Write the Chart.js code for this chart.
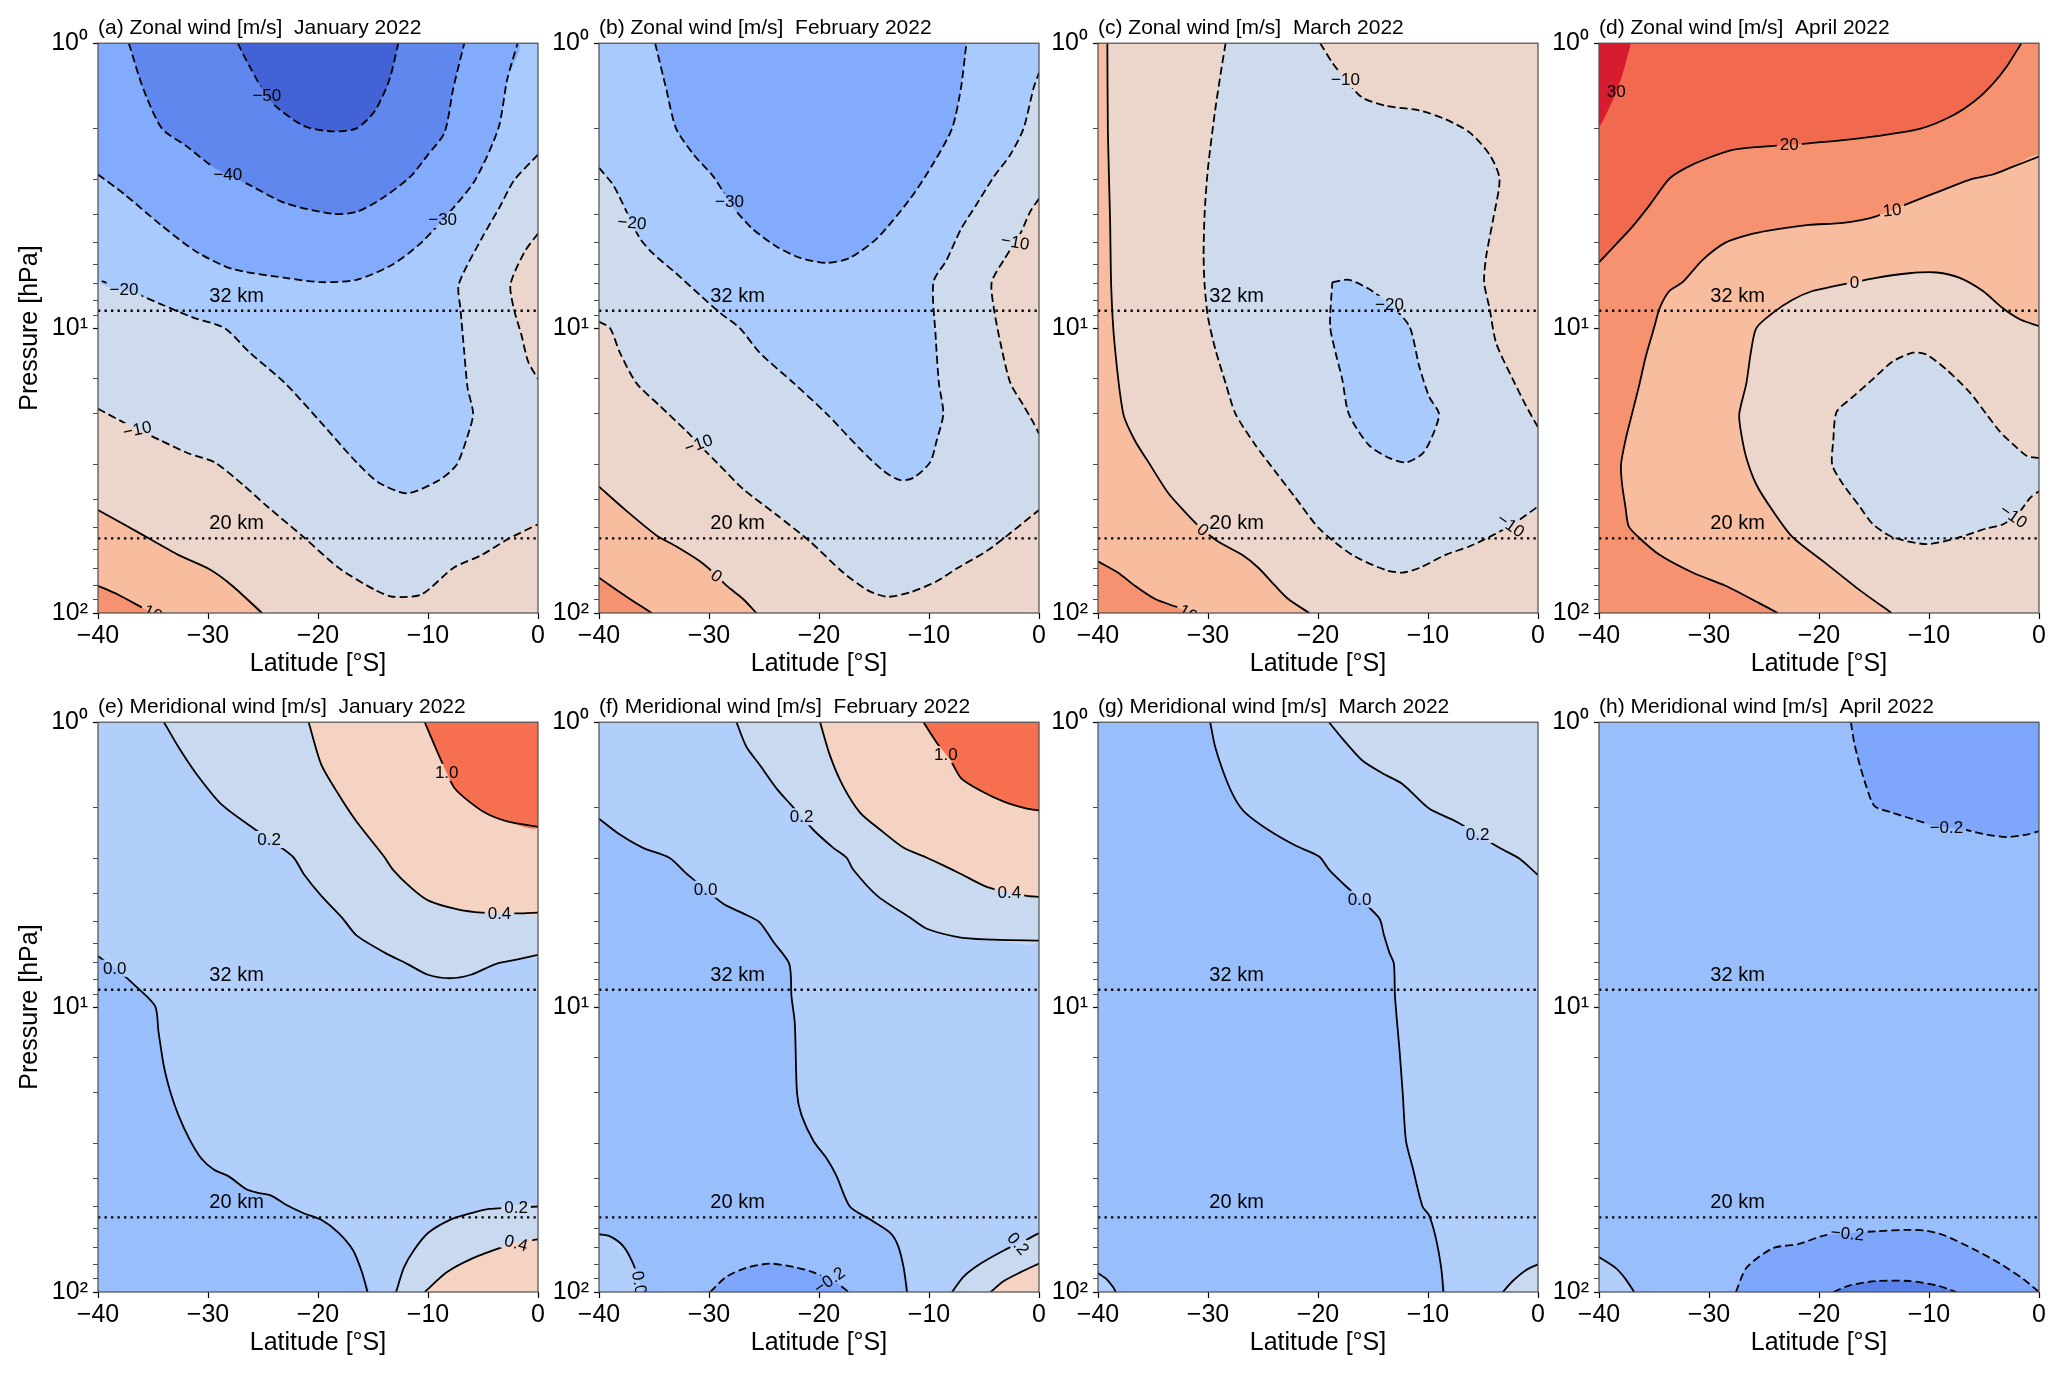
<!DOCTYPE html>
<html>
<head>
<meta charset="utf-8">
<script src="https://cdn.jsdelivr.net/npm/chart.js@4.4.1/dist/chart.umd.min.js"></script>
<style>
  html, body { margin: 0; padding: 0; background: #fff; }
  #page { position: relative; width: 2067px; height: 1377px; overflow: hidden; background: #fff; }
  #page canvas { position: absolute; }
</style>
</head>
<body>
<div id="page"></div>
<script>
// ---- axes
const LAT_TICKS = [-40, -30, -20, -10, 0];
const P_DECADES = [1, 10, 100];
const P_EXPONENT = ['\u2070', '\u00b9', '\u00b2'];
const KM_P = [8.69, 54.7];
const KM_TEXT = ['32 km', '20 km'];
const KM_LAT = -27.4;

const TITLES = [
  '(a) Zonal wind [m/s]  January 2022',
  '(b) Zonal wind [m/s]  February 2022',
  '(c) Zonal wind [m/s]  March 2022',
  '(d) Zonal wind [m/s]  April 2022',
  '(e) Meridional wind [m/s]  January 2022',
  '(f) Meridional wind [m/s]  February 2022',
  '(g) Meridional wind [m/s]  March 2022',
  '(h) Meridional wind [m/s]  April 2022'
];

// ---- contour lines, [latitude, pressure hPa]
// (a) zonal, January
const A_M50 = [[-27.3,1],[-26.2,1.21],[-24.3,1.60],[-21.3,1.95],[-18.7,2.04],[-16.5,1.99],[-14.8,1.72],[-13.5,1.34],[-12.7,1]];
const A_M40 = [[-37.2,1],[-35.9,1.44],[-34.2,1.99],[-32.0,2.29],[-29.4,2.74],[-26.2,3.15],[-23.0,3.64],[-18.7,3.97],[-16.5,3.91],[-14.2,3.51],[-11.6,2.94],[-10.0,2.46],[-8.5,2.06],[-7.7,1.44],[-6.7,1]];
const A_M30 = [[-40,2.89],[-37.6,3.39],[-34.3,4.34],[-31.1,5.38],[-27.8,6.20],[-23.0,6.66],[-19.7,6.90],[-16.5,6.77],[-13.2,5.98],[-10.6,5.01],[-8.0,3.90],[-5.75,3.04],[-3.6,1.99],[-2.8,1.34],[-1.85,1]];
const A_M20 = [[0,2.46],[-2.2,3.04],[-3.5,3.77],[-5.1,4.83],[-7.2,7.02],[-7.05,8.54],[-6.7,12.2],[-6.4,16.2],[-5.9,20.0],[-6.4,23.9],[-7.4,30.2],[-9.0,34.2],[-11.9,38.0],[-14.5,34.8],[-16.5,29.6],[-19.7,21.5],[-23.0,15.6],[-26.2,12.2],[-28.5,10.0],[-31.4,9.17],[-34.3,8.24],[-36.6,7.54],[-40,6.77]];
const A_M10R = [[0,4.66],[-1.2,5.38],[-2.5,7.02],[-2.2,8.54],[-1.5,10.6],[-0.9,13.1],[0,15.1]];
const A_M10 = [[-40,19.2],[-37.2,21.9],[-34.3,24.8],[-31.7,27.6],[-29.4,29.6],[-26.85,35.4],[-24.6,42.3],[-21.3,54.2],[-18.1,69.5],[-14.8,83.1],[-13.2,87.7],[-10.6,86.1],[-7.7,69.5],[-5.1,62.5],[-2.8,55.2],[0,48.8]];
const A_0 = [[-40,43.5],[-35.9,53.3],[-32.7,62.5],[-29.9,70.1],[-27.8,80.2],[-25.1,100]];
const A_10 = [[-40,80.2],[-38.2,86.1],[-35.6,97.5],[-35.0,100]];

// (b) zonal, February
const B_M30 = [[-34.9,1],[-33.9,1.44],[-33.0,1.99],[-31.4,2.46],[-29.6,2.94],[-27.8,3.77],[-26.0,4.50],[-23.8,5.19],[-21.7,5.67],[-19.3,5.90],[-17.2,5.67],[-14.7,4.83],[-11.7,3.51],[-9.6,2.64],[-7.9,1.99],[-7.1,1.44],[-6.6,1]];
const B_M20 = [[-40,2.74],[-38.7,3.15],[-37.5,3.90],[-36.3,4.83],[-35.1,5.47],[-33.0,6.42],[-30.8,7.67],[-29.0,8.84],[-27.2,10.0],[-25.4,12.2],[-22.3,15.6],[-19.3,20.0],[-16.25,26.6],[-14.1,31.8],[-12.6,34.2],[-11.4,33.5],[-9.9,29.6],[-9.3,24.8],[-8.7,20.0],[-9.1,15.6],[-9.4,10.6],[-9.6,6.90],[-8.4,5.77],[-7.1,4.50],[-5.6,3.64],[-4.1,2.94],[-2.6,2.46],[-1.4,1.99],[-0.5,1.44],[0,1.27]];
const B_M10R = [[0,3.51],[-0.8,3.90],[-1.7,4.66],[-3.2,5.77],[-4.3,6.90],[-4.1,8.54],[-3.5,11.3],[-2.6,15.6],[-1.4,18.7],[-0.5,21.5],[0,23.5]];
const B_M10 = [[-40,9.5],[-39.0,10.0],[-38.1,12.2],[-36.6,15.6],[-34.5,18.7],[-32.0,23.1],[-30.5,26.6],[-29.3,29.6],[-26.9,36.7],[-23.8,45.4],[-20.8,56.2],[-17.8,72.1],[-15.6,83.1],[-13.8,87.7],[-11.7,84.6],[-9.3,77.4],[-7.4,69.5],[-4.7,60.4],[-2.6,52.4],[0,43.5]];
const B_0 = [[-40,36.0],[-37.5,43.8],[-34.8,53.3],[-33.0,58.3],[-30.8,65.9],[-29.6,72.1],[-28.4,80.2],[-26.9,89.3],[-25.7,100]];
const B_10 = [[-40,75.2],[-38.1,84.6],[-36.6,92.5],[-35.2,100]];

// (c) zonal, March
const C_M10L = [[-28.4,1],[-28.75,1.21],[-29.35,1.72],[-30.0,2.74],[-30.3,3.90],[-30.4,5.57],[-30.3,7.14],[-30.0,9.17],[-29.35,11.8],[-28.4,15.6],[-27.5,20.0],[-25.7,25.7],[-23.9,31.8],[-22.05,39.4],[-19.9,50.5],[-16.9,62.5],[-13.8,70.8],[-12.3,72.1],[-10.8,69.5],[-8.4,62.5],[-6.2,58.3],[-4.1,53.3],[-2.3,48.8],[0,42.3]];
const C_M10R = [[-19.8,1],[-18.7,1.17],[-17.5,1.34],[-16.0,1.55],[-13.8,1.66],[-10.8,1.72],[-8.4,1.85],[-6.2,2.06],[-4.4,2.46],[-3.5,2.99],[-4.1,4.19],[-4.7,5.57],[-4.9,6.90],[-4.4,8.54],[-3.8,11.3],[-2.3,15.1],[-1.1,18.7],[0,22.3]];
const C_M20 = [[-18.7,6.90],[-17.2,6.77],[-15.4,7.28],[-13.5,8.24],[-11.7,9.84],[-10.8,13.6],[-9.9,17.4],[-9.0,20.0],[-9.6,23.9],[-10.5,27.6],[-12.0,29.6],[-13.5,28.6],[-15.4,25.7],[-17.2,20.0],[-17.8,15.1],[-18.4,12.2],[-18.9,9.84],[-18.7,6.90]];
const C_0 = [[-39.15,1],[-39.1,2.06],[-38.9,4.19],[-38.8,7.14],[-38.5,11.3],[-37.7,20.0],[-36.65,24.8],[-35.4,29.6],[-33.6,38.0],[-31.8,45.4],[-30.6,50.5],[-29.05,56.2],[-26.9,62.5],[-25.4,69.5],[-23.9,80.2],[-22.7,89.3],[-20.8,100]];
const C_10 = [[-40,65.9],[-38.2,72.1],[-36.65,80.2],[-34.8,89.3],[-32.7,95.8],[-31.8,100]];

// (d) zonal, April
const D_30 = [[-37.1,1],[-37.9,1.30],[-38.8,1.60],[-40,1.95]];
const D_20 = [[-40,5.88],[-38.5,5.10],[-37.0,4.42],[-35.4,3.70],[-33.6,2.99],[-32.1,2.74],[-30.3,2.55],[-27.85,2.37],[-25.4,2.31],[-23.9,2.29],[-21.2,2.25],[-17.8,2.19],[-14.8,2.12],[-10.85,2.00],[-7.8,1.79],[-5.7,1.58],[-4.2,1.39],[-2.95,1.21],[-1.6,1]];
const D_10 = [[-23.75,100],[-25.4,92.5],[-28.5,80.2],[-31.5,72.1],[-34.5,62.5],[-36.4,54.2],[-37.3,49.6],[-37.6,42.3],[-37.9,35.4],[-38.0,30.2],[-37.6,24.8],[-37.0,20.0],[-36.4,16.2],[-35.75,12.6],[-35.0,10.0],[-34.5,8.54],[-33.6,7.41],[-32.4,6.90],[-30.6,5.77],[-28.5,5.01],[-26.0,4.66],[-23.9,4.50],[-20.9,4.34],[-17.8,4.27],[-14.8,4.05],[-11.8,3.64],[-8.7,3.27],[-6.0,2.99],[-4.2,2.89],[-2.65,2.74],[0,2.50]];
const D_0 = [[-13.4,100],[-16.3,83.1],[-19.35,67.1],[-22.4,54.2],[-24.2,43.8],[-25.7,35.4],[-26.6,28.6],[-27.1,23.1],[-27.25,20.0],[-26.6,15.6],[-26.2,12.2],[-25.7,10.0],[-24.2,8.84],[-22.4,7.95],[-20.6,7.41],[-18.7,7.14],[-14.8,6.66],[-11.8,6.42],[-9.3,6.38],[-7.2,6.66],[-5.1,7.41],[-3.25,8.54],[-1.7,9.33],[0,9.84]];
const D_M10 = [[0,28.6],[-1.1,28.1],[-2.3,25.7],[-3.55,23.1],[-4.8,20.0],[-6.3,16.8],[-8.4,14.0],[-10.2,12.4],[-11.45,12.2],[-13.3,13.1],[-15.1,15.1],[-16.9,17.4],[-18.4,19.7],[-18.7,24.8],[-18.8,30.2],[-17.8,35.4],[-16.3,42.3],[-15.1,48.8],[-13.3,54.2],[-10.2,57.3],[-7.2,54.2],[-4.8,50.5],[-3.25,48.8],[-1.7,43.8],[-0.8,39.4],[0,37.4]];

// (e) meridional, January
const E_0 = [[-40,6.63],[-38.2,7.43],[-36.4,8.56],[-34.8,9.93],[-34.5,12.2],[-34.0,16.2],[-33.4,20.0],[-32.7,23.9],[-31.7,29.0],[-30.6,34.0],[-29.45,37.2],[-28.15,39.2],[-26.5,43.6],[-25.55,44.8],[-24.25,45.9],[-22.95,49.3],[-21.3,52.9],[-19.7,55.8],[-18.1,62.1],[-16.8,71.5],[-16.0,85.3],[-15.5,100]];
const E_02 = [[-34.0,1],[-32.7,1.22],[-31.1,1.51],[-28.8,1.94],[-26.2,2.31],[-22.3,2.96],[-21.3,3.41],[-19.7,4.07],[-17.8,4.86],[-16.5,5.60],[-13.9,6.45],[-11.9,7.05],[-10.0,7.70],[-8.0,7.92],[-6.1,7.70],[-3.8,7.05],[-1.85,6.80],[0,6.56]];
const E_04 = [[-20.85,1],[-19.7,1.41],[-18.1,1.80],[-16.5,2.23],[-14.0,2.96],[-13.2,3.29],[-11.6,3.79],[-10.0,4.22],[-7.4,4.53],[-5.1,4.66],[-1.85,4.69],[0,4.66]];
const E_10 = [[-10.3,1],[-9.0,1.31],[-7.7,1.68],[-6.7,1.84],[-4.8,2.08],[-2.8,2.23],[0,2.33]];
const E_02B = [[-12.9,100],[-12.2,82.3],[-11.3,71.5],[-10.0,62.1],[-8.0,55.8],[-6.1,52.9],[-4.45,51.1],[0,50.1]];
const E_04B = [[-10.3,100],[-8.3,85.3],[-6.1,76.7],[-3.5,70.2],[-1.85,67.0],[0,65.4]];

// (f) meridional, February
const F_0 = [[-40,2.18],[-38.1,2.48],[-36.0,2.76],[-33.6,2.99],[-32.0,3.41],[-28.7,4.34],[-26.9,4.69],[-25.4,5.04],[-24.15,5.90],[-22.7,7.05],[-22.5,9.19],[-22.2,11.4],[-22.0,20.0],[-21.6,23.9],[-20.5,29.5],[-19.3,34.0],[-18.4,39.2],[-17.2,50.1],[-15.3,55.8],[-13.5,62.1],[-12.8,69.0],[-12.3,82.3],[-12.0,100]];
const F_0B = [[-40,62.7],[-39.0,63.8],[-37.8,69.0],[-36.9,79.5],[-36.3,93.2],[-36.1,100]];
const F_M02 = [[-29.9,100],[-28.4,88.3],[-26.6,82.3],[-24.45,79.5],[-22.3,81.7],[-20.5,85.3],[-18.1,94.8],[-17.3,100]];
const F_02 = [[-27.5,1],[-26.6,1.22],[-25.4,1.41],[-23.85,1.71],[-22.6,1.94],[-20.5,2.39],[-18.7,2.76],[-17.5,2.99],[-16.9,3.29],[-14.7,4.07],[-11.7,4.86],[-10.2,5.31],[-7.1,5.70],[-4.1,5.80],[0,5.84]];
const F_04 = [[-19.9,1],[-19.0,1.31],[-17.8,1.68],[-16.25,2.08],[-14.4,2.39],[-12.3,2.76],[-10.2,2.99],[-8.7,3.18],[-7.1,3.41],[-4.7,3.79],[-1.1,4.07],[0,4.10]];
const F_10 = [[-10.5,1],[-9.3,1.18],[-8.05,1.36],[-7.1,1.57],[-5.3,1.74],[-3.2,1.90],[-1.1,2.01],[0,2.04]];
const F_02B = [[-7.9,100],[-6.85,88.3],[-5.3,79.5],[-3.2,71.5],[-1.1,65.4],[0,62.1]];
const F_04B = [[-4.4,100],[-3.2,91.5],[-1.7,85.3],[0,79.5]];

// (g) meridional, March
const G_0 = [[-29.8,1],[-29.35,1.22],[-28.4,1.57],[-27.5,1.87],[-26.6,2.08],[-24.5,2.39],[-22.05,2.71],[-19.9,2.96],[-19.0,3.29],[-17.8,3.66],[-14.45,4.86],[-14.0,5.60],[-13.5,6.45],[-13.1,7.05],[-13.0,9.19],[-12.6,14.0],[-12.3,20.0],[-12.0,29.5],[-11.4,36.5],[-10.5,50.1],[-9.9,53.8],[-9.3,64.3],[-8.8,82.3],[-8.6,100]];
const G_0B = [[-40,85.9],[-39.25,89.9],[-38.6,96.5],[-38.4,100]];
const G_02 = [[-19.0,1],[-17.8,1.14],[-16.0,1.36],[-14.15,1.51],[-12.3,1.65],[-9.9,2.01],[-7.45,2.23],[-3.5,2.76],[-1.7,3.01],[0,3.44]];
const G_02B = [[-3.2,100],[-2.3,91.5],[-1.1,83.8],[0,80.0]];

// (h) meridional, April
const H_M02T = [[-17.1,1],[-16.8,1.18],[-16.3,1.41],[-15.7,1.68],[-14.95,1.97],[-13.3,2.08],[-11.45,2.19],[-9.6,2.30],[-6.6,2.39],[-4.8,2.48],[-2.95,2.53],[-1.1,2.48],[0,2.41]];
const H_M02B = [[-27.55,100],[-26.6,82.3],[-24.2,70.2],[-21.8,67.8],[-19.35,63.1],[-14.8,61.2],[-11.8,60.5],[-10.2,61.0],[-8.7,63.1],[-5.7,71.5],[-3.55,79.5],[-1.45,89.9],[0,100]];
const H_M04B = [[-18.7,100],[-17.2,94.8],[-14.8,91.5],[-11.8,91.5],[-9.3,94.8],[-7.5,100]];
const H_0B = [[-40,75.4],[-38.5,82.3],[-37.6,89.9],[-36.8,100]];

// ---- band colours (coolwarm-like)
const Z_LT50 = '#4262d6', Z_50_40 = '#5f87ee', Z_40_30 = '#82abfb', Z_30_20 = '#a9cafd',
      Z_20_10 = '#cedbec', Z_10_0 = '#ecd5ca', Z_0_10 = '#f8bc9f', Z_10_20 = '#f6926f',
      Z_20_30 = '#f16a50', Z_GT30 = '#d81c2f';
const M_LT04 = '#5a81e9', M_04_02 = '#7ea7fb', M_02_0 = '#98befc', M_0_02 = '#b2cffb',
      M_02_04 = '#c9d9ef', M_04_10 = '#f5d3c3', M_GT10 = '#f6704f';

// domain corners used to close regions along the frame
const TL = [-40, 1], TR = [0, 1], BR = [0, 100], BL = [-40, 100];
const close = (line, ...corners) => line.concat(corners);

// fills are painted in order, each over the previous
const PANELS = [
  { base: Z_20_10,
    fills: [[close(A_M20, TL, TR), Z_30_20], [close(A_M30, TL), Z_40_30], [A_M40, Z_50_40], [A_M50, Z_LT50],
            [close(A_M10, BR, BL), Z_10_0], [A_M10R, Z_10_0], [close(A_0, BL), Z_0_10], [close(A_10, BL), Z_10_20]],
    lines: [[A_M50, 1], [A_M40, 1], [A_M30, 1], [A_M20, 1], [A_M10, 1], [A_M10R, 1], [A_0, 0], [A_10, 0]],
    labels: [[A_M50, -24.9, 1.54, '\u221250', 0], [A_M40, -28.2, 2.89, '\u221240', 0], [A_M30, -8.7, 4.15, '\u221230', 0],
             [A_M20, -37.7, 7.41, '\u221220', 0], [A_M10, -36.3, 22.1, '\u221210', -12], [A_10, -34.8, 99, '10', 25]] },
  { base: Z_20_10,
    fills: [[close(B_M20, TR, TL), Z_30_20], [B_M30, Z_40_30], [close(B_M10, BR, BL), Z_10_0], [B_M10R, Z_10_0],
            [close(B_0, BL), Z_0_10], [close(B_10, BL), Z_10_20]],
    lines: [[B_M30, 1], [B_M20, 1], [B_M10, 1], [B_M10R, 1], [B_0, 0], [B_10, 0]],
    labels: [[B_M30, -28.0, 3.57, '\u221230', 0], [B_M20, -37.05, 4.27, '\u221220', 5], [B_M10, -31.3, 26.2, '\u221210', -20],
             [B_M10R, -2.4, 4.92, '\u221210', 10], [B_0, -29.6, 76, '0', 35]] },
  { base: Z_10_0,
    fills: [[C_M10L.concat(C_M10R.slice().reverse()), Z_20_10], [C_M20, Z_30_20], [close(C_0, BL, TL), Z_0_10], [close(C_10, BL), Z_10_20]],
    lines: [[C_M10L, 1], [C_M10R, 1], [C_M20, 1], [C_0, 0], [C_10, 0]],
    labels: [[C_M10R, -17.5, 1.34, '\u221210', 0], [C_M20, -13.5, 8.24, '\u221220', 0], [C_M10L, -2.3, 50.5, '\u221210', 35],
             [C_0, -30.7, 52.4, '0', 40], [C_10, -31.2, 98, '10', 30]] },
  { base: Z_20_30,
    fills: [[close(D_30, TL), Z_GT30], [close(D_20, TR, BR, BL), Z_10_20], [close(D_10, BR), Z_0_10], [close(D_0, BR), Z_10_0], [D_M10, Z_20_10]],
    lines: [[D_20, 0], [D_10, 0], [D_0, 0], [D_M10, 1]],
    labels: [[D_30, -38.5, 1.47, '30', 0], [D_20, -22.7, 2.27, '20', 0], [D_10, -13.4, 3.81, '10', -5],
             [D_0, -16.8, 6.82, '0', 0], [D_M10, -2.2, 46.2, '\u221210', 35]] },
  { base: M_0_02,
    fills: [[close(E_0, BL), M_02_0], [close(E_02, TR), M_02_04], [close(E_04, TR), M_04_10], [close(E_10, TR), M_GT10],
            [close(E_02B, BR), M_02_04], [close(E_04B, BR), M_04_10]],
    lines: [[E_0, 0], [E_02, 0], [E_04, 0], [E_10, 0], [E_02B, 0], [E_04B, 0]],
    labels: [[E_0, -38.2, 7.05, '0.0', 0], [E_02, -24.5, 2.60, '0.2', 0], [E_04, -3.5, 4.66, '0.4', 0],
             [E_10, -8.5, 1.51, '1.0', 0], [E_02B, -2.0, 50.2, '0.2', 0], [E_04B, -2.0, 67, '0.4', 15]] },
  { base: M_0_02,
    fills: [[close(F_0, BL), M_02_0], [close(F_0B, BL), M_0_02], [F_M02, M_04_02], [close(F_02, TR), M_02_04],
            [close(F_04, TR), M_04_10], [close(F_10, TR), M_GT10], [close(F_02B, BR), M_02_04], [close(F_04B, BR), M_04_10]],
    lines: [[F_0, 0], [F_0B, 0], [F_M02, 1], [F_02, 0], [F_04, 0], [F_10, 0], [F_02B, 0], [F_04B, 0]],
    labels: [[F_0, -30.3, 3.86, '0.0', 0], [F_02, -22.0, 2.22, '0.2', 0], [F_04, -2.7, 3.96, '0.4', 0],
             [F_10, -8.7, 1.32, '1.0', 0], [F_02B, -2.0, 66.1, '0.2', 50], [F_M02, -19.0, 89.9, '\u22120.2', -35],
             [F_0B, -36.4, 93, '0.0', 80]] },
  { base: M_0_02,
    fills: [[close(G_0, BL, TL), M_02_0], [close(G_0B, BL), M_0_02], [close(G_02, TR), M_02_04], [close(G_02B, BR), M_02_04]],
    lines: [[G_0, 0], [G_0B, 0], [G_02, 0], [G_02B, 0]],
    labels: [[G_0, -16.3, 4.22, '0.0', 0], [G_02, -5.5, 2.48, '0.2', 0]] },
  { base: M_02_0,
    fills: [[close(H_M02T, TR), M_04_02], [H_M02B, M_04_02], [H_M04B, M_LT04], [close(H_0B, BL), M_0_02]],
    lines: [[H_M02T, 1], [H_M02B, 1], [H_M04B, 1], [H_0B, 0]],
    labels: [[H_M02T, -8.4, 2.31, '\u22120.2', 0], [H_M02B, -17.4, 63.1, '\u22120.2', 5]] }
];

// ---- layout
const FONT = "'Liberation Sans', Arial, Helvetica, sans-serif";
const CANVAS_LEFT = [0, 501, 1000, 1501];
const CANVAS_TOP = [0, 679];
const CW = 558, CH = 688;
const TENSION = 0.25;
const LABEL_PX = 17;
const AXIS_PX = 25;
const page = document.getElementById('page');

const toXY = arr => arr.map(([x, y]) => ({ x, y }));

function snapToLine(chart, line, lat, p) {
  const xs = chart.scales.x, ys = chart.scales.y;
  const px = xs.getPixelForValue(lat), py = ys.getPixelForValue(p);
  let best = null;
  for (let i = 0; i < line.length - 1; i++) {
    const ax = xs.getPixelForValue(line[i][0]), ay = ys.getPixelForValue(line[i][1]);
    const bx = xs.getPixelForValue(line[i + 1][0]), by = ys.getPixelForValue(line[i + 1][1]);
    const dx = bx - ax, dy = by - ay;
    let t = ((px - ax) * dx + (py - ay) * dy) / (dx * dx + dy * dy || 1);
    t = Math.max(0, Math.min(1, t));
    const qx = ax + t * dx, qy = ay + t * dy;
    const d = Math.hypot(px - qx, py - qy);
    if (!best || d < best.d) best = { d, x: qx, y: qy };
  }
  return best;
}

function labelBoxes(chart, spec) {
  const ctx = chart.ctx;
  ctx.save();
  ctx.font = LABEL_PX + 'px ' + FONT;
  const out = spec.labels.map(([line, lat, p, text, ang]) => {
    const pos = snapToLine(chart, line, lat, p);
    return { x: pos.x, y: pos.y, text, a: ang * Math.PI / 180, w: ctx.measureText(text).width + 6, h: LABEL_PX };
  });
  ctx.restore();
  return out;
}

function makePanel(i) {
  const spec = PANELS[i];
  const col = i % 4, row = Math.floor(i / 4);
  const canvas = document.createElement('canvas');
  canvas.width = CW; canvas.height = CH;
  canvas.style.left = CANVAS_LEFT[col] + 'px';
  canvas.style.top = CANVAS_TOP[row] + 'px';
  page.appendChild(canvas);

  const datasets = [];
  spec.fills.forEach(([poly, color], k) => datasets.push({
    data: toXY(poly), showLine: true, fill: 'shape', backgroundColor: color,
    borderColor: 'rgba(0,0,0,0)', borderWidth: 0, pointRadius: 0, tension: TENSION, order: 100 - k
  }));
  const firstLine = datasets.length;
  spec.lines.forEach(([line, dashed]) => datasets.push({
    data: toXY(line), showLine: true, fill: false, borderColor: '#000', borderWidth: 1.8,
    borderDash: dashed ? [8, 4] : [], pointRadius: 0, tension: TENSION, order: 10
  }));
  const lastLine = datasets.length;
  KM_P.forEach(p => datasets.push({
    data: [{ x: -40, y: p }, { x: 0, y: p }], showLine: true, fill: false, borderColor: '#000',
    borderWidth: 2.3, borderDash: [2.3, 4.2], borderCapStyle: 'butt', pointRadius: 0, order: 5
  }));

  let boxes = [];
  const panelPlugin = {
    id: 'panelDecor' + i,
    beforeDatasetsDraw(chart) {
      const { ctx, chartArea: a } = chart;
      boxes = labelBoxes(chart, spec);
      ctx.save();
      ctx.fillStyle = spec.base;
      ctx.fillRect(a.left, a.top, a.right - a.left, a.bottom - a.top);
      ctx.restore();
    },
    beforeDatasetDraw(chart, args) {
      if (args.index < firstLine || args.index >= lastLine) return;
      const ctx = chart.ctx;
      ctx.save();
      ctx.beginPath();
      ctx.rect(0, 0, chart.width, chart.height);
      boxes.forEach(b => {
        ctx.save();
        ctx.translate(b.x, b.y);
        ctx.rotate(b.a);
        ctx.rect(-b.w / 2, -b.h / 2, b.w, b.h);
        ctx.restore();
      });
      ctx.clip('evenodd');
    },
    afterDatasetDraw(chart, args) {
      if (args.index < firstLine || args.index >= lastLine) return;
      chart.ctx.restore();
    },
    afterDatasetsDraw(chart) {
      const { ctx, chartArea: a, scales } = chart;
      ctx.save();
      ctx.beginPath();
      ctx.rect(a.left, a.top, a.right - a.left, a.bottom - a.top);
      ctx.clip();
      ctx.fillStyle = '#000';
      ctx.font = LABEL_PX + 'px ' + FONT;
      ctx.textAlign = 'center';
      ctx.textBaseline = 'middle';
      boxes.forEach(b => {
        ctx.save();
        ctx.translate(b.x, b.y);
        ctx.rotate(b.a);
        ctx.fillText(b.text, 0, 1);
        ctx.restore();
      });
      ctx.font = '20px ' + FONT;
      ctx.textBaseline = 'alphabetic';
      KM_P.forEach((p, k) => {
        ctx.fillText(KM_TEXT[k], scales.x.getPixelForValue(KM_LAT), scales.y.getPixelForValue(p) - 9);
      });
      ctx.restore();
      ctx.save();
      ctx.strokeStyle = '#4d4d4d';
      ctx.lineWidth = 1.2;
      ctx.strokeRect(a.left, a.top, a.right - a.left, a.bottom - a.top);
      ctx.restore();
    }
  };

  new Chart(canvas, {
    type: 'scatter',
    data: { datasets },
    options: {
      responsive: false,
      animation: false,
      devicePixelRatio: 1,
      events: [],
      layout: { padding: { left: 0, right: 20, top: 0, bottom: 0 } },
      plugins: {
        legend: { display: false },
        tooltip: { enabled: false },
        title: {
          display: true, text: TITLES[i], align: 'start', fullSize: false, color: '#000',
          font: { family: FONT, size: 21, weight: 'normal' }, padding: { top: 16, bottom: 2 }
        }
      },
      scales: {
        x: {
          type: 'linear', min: -40, max: 0,
          afterFit: s => { s.height = 75; },
          afterBuildTicks: s => { s.ticks = LAT_TICKS.map(v => ({ value: v })); },
          ticks: {
            color: '#000', font: { family: FONT, size: AXIS_PX }, padding: 2, maxRotation: 0, autoSkip: false,
            callback: v => (v < 0 ? '\u2212' + Math.abs(v) : String(v))
          },
          grid: { drawOnChartArea: false, drawTicks: true, tickLength: 6, tickColor: '#000', tickWidth: 1.2 },
          border: { display: false },
          title: { display: true, text: 'Latitude [\u00b0S]', color: '#000', font: { family: FONT, size: AXIS_PX }, padding: { top: 0, bottom: 9 } }
        },
        y: {
          type: 'logarithmic', reverse: true, min: 1, max: 100,
          afterFit: s => { s.width = 98; },
          ticks: {
            color: '#000', font: { family: FONT, size: AXIS_PX }, padding: 5, autoSkip: false,
            callback: v => {
              const k = P_DECADES.findIndex(d => Math.abs(v - d) < d * 1e-6);
              return k >= 0 ? '10' + P_EXPONENT[k] : '';
            }
          },
          grid: {
            drawOnChartArea: false, drawTicks: true, tickLength: 5, tickColor: '#000',
            tickWidth: c => (c.tick && P_DECADES.some(d => Math.abs(c.tick.value - d) < d * 1e-6) ? 1.2 : 0.7)
          },
          border: { display: false },
          title: { display: col === 0, text: 'Pressure [hPa]', color: '#000', font: { family: FONT, size: AXIS_PX }, padding: { top: 15, bottom: 0 } }
        }
      }
    },
    plugins: [panelPlugin]
  });
}

for (let i = 0; i < PANELS.length; i++) makePanel(i);
</script>
</body>
</html>
